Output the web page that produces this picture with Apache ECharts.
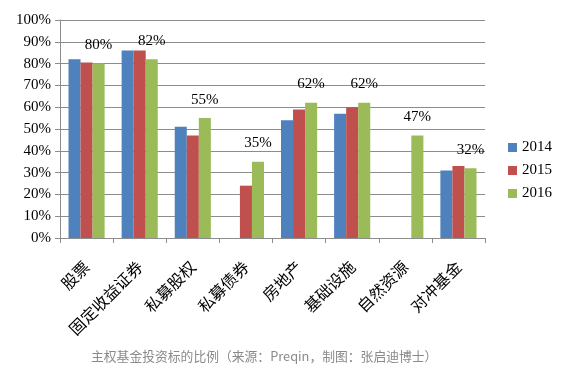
<!DOCTYPE html>
<html><head><meta charset="utf-8">
<script src="https://cdn.jsdelivr.net/npm/echarts@6/dist/echarts.min.js"></script>
<style>html,body{margin:0;padding:0;background:#fff;}#c{width:579px;height:376px;}</style>
</head><body><div id="c"></div>
<script>
const categories = ['股票','固定收益证券','私募股权','私募债券','房地产','基础设施','自然资源','对冲基金'];
const years = ['2014','2015','2016'];
const v2014 = [82, 86, 51, null, 54, 57, null, 31];
const v2015 = [80.5, 86, 47, 24, 59, 60, null, 33];
const v2016 = [80, 82, 55, 35, 62, 62, 47, 32];
const yTicks = [0,10,20,30,40,50,60,70,80,90,100];
const caption = '主权基金投资标的比例（来源：Preqin，制图：张启迪博士）';

const colors = ['#4F81BD','#C0504D','#9BBB59'];
const serif = '"Liberation Serif","DejaVu Serif",serif';
const chart = echarts.init(document.getElementById('c'));
chart.setOption({
  animation: false,
  color: colors,
  title: {
    text: caption, left: 86, top: 345,
    textStyle: {fontSize: 12.8, fontWeight: 'normal', color: '#8a8a8a', fontFamily: '"Noto Sans CJK SC",sans-serif'}
  },
  legend: {
    data: years, orient: 'vertical', left: 503, top: 135,
    itemWidth: 9, itemHeight: 9, itemGap: 8, icon: 'rect',
    textStyle: {fontSize: 15, lineHeight: 15, fontFamily: serif, color: '#000'}
  },
  grid: {left: 60, right: 94, top: 20, bottom: 138},
  xAxis: {
    type: 'category', data: categories,
    axisLine: {lineStyle: {color: '#8c8c8c', width: 1}},
    axisTick: {show: true, length: 5, lineStyle: {color: '#8c8c8c'}},
    axisLabel: {rotate: 45, margin: 26, padding: [12,0,0,0], fontSize: 16, color: '#000', fontFamily: '"Noto Sans CJK SC",serif', interval: 0}
  },
  yAxis: {
    type: 'value', min: 0, max: 100, interval: 10,
    axisLine: {show: true, lineStyle: {color: '#8c8c8c', width: 1}},
    axisTick: {show: true, inside: false, length: 5, lineStyle: {color: '#8c8c8c'}},
    splitLine: {lineStyle: {color: '#8c8c8c', width: 1}},
    axisLabel: {margin: 9, fontSize: 15, color: '#000', fontFamily: serif,
      formatter: v => yTicks.includes(v) ? v + '%' : ''}
  },
  series: [
    {name: years[0], type: 'bar', data: v2014, barGap: '0%', barCategoryGap: '32%'},
    {name: years[1], type: 'bar', data: v2015, barGap: '0%', barCategoryGap: '32%'},
    {name: years[2], type: 'bar', data: v2016, barGap: '0%', barCategoryGap: '32%',
      label: {show: true, position: 'top', distance: 11, fontSize: 15, color: '#000', fontFamily: serif,
        formatter: p => Math.round(p.value) + '%'}}
  ]
});
</script></body></html>
